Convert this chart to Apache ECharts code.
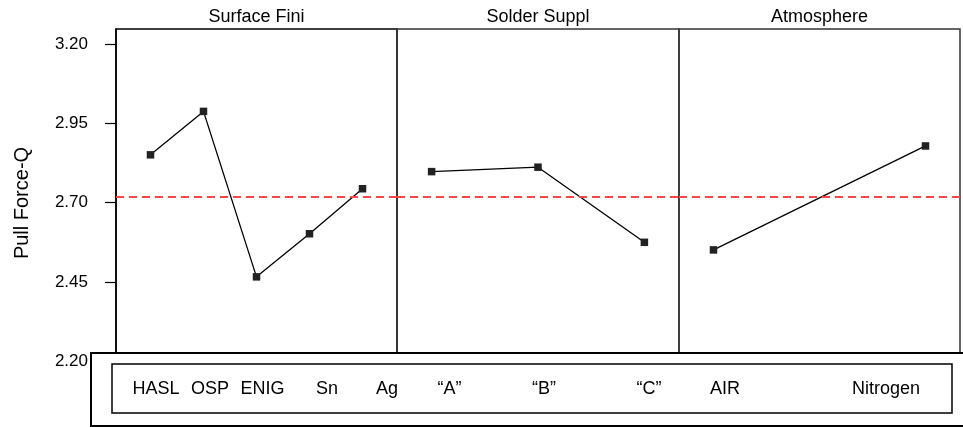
<!DOCTYPE html>
<html>
<head>
<meta charset="utf-8">
<script src="https://cdn.jsdelivr.net/npm/echarts@6/dist/echarts.min.js"></script>
<style>
  html, body { margin: 0; padding: 0; background: #fff; }
  #chart { width: 963px; height: 427px; }
</style>
</head>
<body>
<div id="chart"></div>
<script>
// Main effects of three factors on pull force (means per level)
const surfaceLevels = ['HASL', 'OSP', 'ENIG', 'Sn', 'Ag'];
const surfaceMeans = [2.851, 2.988, 2.466, 2.602, 2.744];

const solderLevels = ['\u201CA\u201D', '\u201CB\u201D', '\u201CC\u201D'];
const solderMeans = [2.798, 2.812, 2.575];

const atmosLevels = ['AIR', 'Nitrogen'];
const atmosMeans = [2.551, 2.879];

const grandMean = 2.722;
const yTicks = [2.20, 2.45, 2.70, 2.95, 3.20];
const panelTitles = ['Surface Fini', 'Solder Suppl', 'Atmosphere'];
const yTitle = 'Pull Force-Q';

// Layout (pixels)
const panelLeft = [116, 397, 679];
const panelRight = 960;
const plotTop = 29;
const plotBottom = 50;
const yMin = 2.15, yMax = 3.248;
const edgePad = 0.1627;          // point inset as a share of the level span
const levelLabelX = [156, 210, 262.5, 327, 387, 449.5, 544, 649, 725, 886];

const FONT = '"Liberation Sans", Arial, sans-serif';

const panels = [
  { levels: surfaceLevels, means: surfaceMeans },
  { levels: solderLevels, means: solderMeans },
  { levels: atmosLevels, means: atmosMeans }
];

const grids = [], xAxes = [], yAxes = [], series = [], titles = [];

panels.forEach((p, i) => {
  const left = panelLeft[i];
  const right = i < 2 ? panelLeft[i + 1] : panelRight;
  const n = p.levels.length;
  grids.push({
    left: left, width: right - left, top: plotTop, bottom: plotBottom,
    show: true, borderColor: i === 0 ? '#000' : '#333', borderWidth: 1.5, backgroundColor: 'transparent'
  });
  xAxes.push({
    type: 'value', gridIndex: i,
    min: -(n - 1) * edgePad, max: (n - 1) * (1 + edgePad),
    show: false, splitLine: { show: false }
  });
  const first = i === 0;
  yAxes.push({
    type: 'value', gridIndex: i, min: yMin, max: yMax, position: 'left',
    splitLine: { show: false },
    axisLine: { show: first, onZero: false, lineStyle: { color: '#000', width: 1.5 } },
    axisTick: first ? { show: true, inside: false, length: 11, customValues: yTicks, lineStyle: { color: '#000', width: 1.2 } } : { show: false },
    axisLabel: first ? {
      show: true, customValues: yTicks, margin: 28, color: '#000', fontSize: 17, fontFamily: FONT,
      formatter: v => v.toFixed(2)
    } : { show: false },
    name: first ? yTitle : '',
    nameLocation: 'middle', nameGap: 84,
    nameTextStyle: { fontSize: 20, color: '#000', fontFamily: FONT }
  });
  series.push({
    type: 'line', xAxisIndex: i, yAxisIndex: i,
    data: p.means.map((v, k) => [k, v]),
    symbol: 'rect', symbolSize: 7.5, showSymbol: true,
    itemStyle: { color: '#222' },
    lineStyle: { color: '#000', width: 1.3 },
    animation: false, silent: true,
    markLine: {
      silent: true, symbol: 'none', label: { show: false }, animation: false,
      lineStyle: { color: '#ff4545', type: [8, 5], width: 1.8 },
      data: [{ yAxis: grandMean }]
    }
  });
  titles.push({
    text: panelTitles[i], left: (left + right) / 2, top: 8, textAlign: 'center', padding: 0,
    textStyle: { fontSize: 18, fontWeight: 'normal', color: '#000', fontFamily: FONT }
  });
});

// Level names shown inside the framed strip under the panels
const allLevels = surfaceLevels.concat(solderLevels, atmosLevels);
const levelTexts = allLevels.map((name, k) => ({
  type: 'text', z: 102, x: levelLabelX[k], y: 389,
  style: { text: name, fill: '#000', font: '18px ' + FONT, textAlign: 'center', textVerticalAlign: 'middle' }
}));

const chart = echarts.init(document.getElementById('chart'), null, { renderer: 'canvas' });
chart.setOption({
  animation: false,
  backgroundColor: '#fff',
  textStyle: { fontFamily: FONT },
  title: titles,
  grid: grids,
  xAxis: xAxes,
  yAxis: yAxes,
  series: series,
  graphic: [
    { type: 'rect', z: 100, shape: { x: 91, y: 353, width: 890, height: 73 },
      style: { fill: '#fff', stroke: '#000', lineWidth: 2 } },
    { type: 'rect', z: 101, shape: { x: 112, y: 364, width: 840, height: 49 },
      style: { fill: 'none', stroke: '#000', lineWidth: 1.5 } }
  ].concat(levelTexts)
});
</script>
</body>
</html>
